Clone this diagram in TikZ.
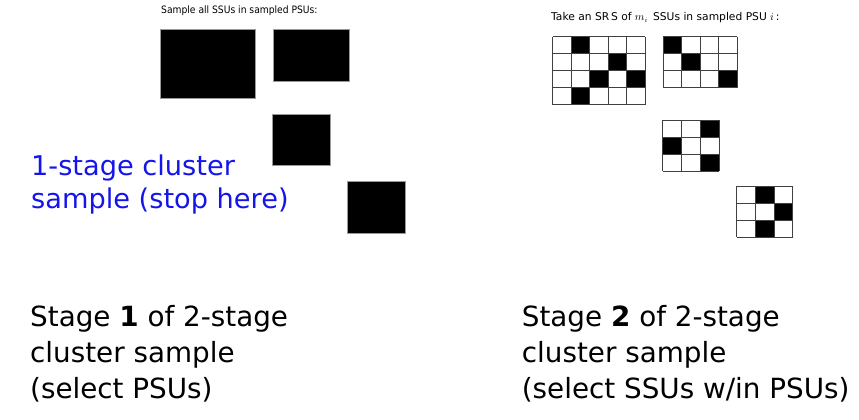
\documentclass[tikz,border=0pt]{standalone}
\usepackage{fontspec}
\setmainfont{DejaVu Sans}
\newfontfamily\condfont{DejaVu Sans Condensed}
\begin{document}
\begin{tikzpicture}[x=1pt,y=-1pt,
  txt/.style={anchor=base west,inner sep=0pt,font=\fontsize{27.8}{32}\selectfont},
  bluetxt/.style={txt,font=\fontsize{27.2}{32}\selectfont,text={rgb,255:red,20;green,20;blue,235}},
  small/.style={anchor=base west,inner sep=0pt,font=\condfont\fontsize{10.2}{12}\selectfont},
  smallr/.style={anchor=base west,inner sep=0pt,font=\fontsize{10.7}{12}\selectfont},
  gridline/.style={draw=black!75,line width=0.9pt},
  fullbox/.style={fill=black,draw=black!40,line width=0.9pt}]
\useasboundingbox (0,0) rectangle (859,420);
% #1 x0, #2 y0, #3 cols, #4 rows, #5 cell width, #6 list of black cells c/r
\newcommand\ssugrid[6]{%
  \foreach \c/\r in {#6}{\fill[black] ({#1+(\c-1)*#5},{#2+(\r-1)*17}) rectangle ++(#5,17);}
  \foreach \i in {0,...,#3}{\draw[gridline] ({#1+\i*#5},#2) -- ++(0,{#4*17});}
  \foreach \j in {0,...,#4}{\draw[gridline] (#1,{#2+\j*17}) -- ++({#3*#5},0);}
}
% left: stage 1 (all SSUs sampled)
\node[small] (lt) at (161,14) {Sample all SSUs in sampled PSUs:};
\draw[fullbox] (160.7,29.7) rectangle ++(95,68.3);
\draw[fullbox] (273.3,29.7) rectangle ++(75.7,51.3);
\draw[fullbox] (272.7,114) rectangle ++(57.3,51.7);
\draw[fullbox] (347.7,181.3) rectangle ++(57.3,52);
% right: stage 2
\node[smallr] (rt) at (551,21) {Take an SR\,S of $m_i$\, SSUs in sampled PSU $i$\,:};
\ssugrid{552.7}{36.7}{5}{4}{18.46}{2/1,4/2,3/3,5/3,2/4}
\ssugrid{663}{36.7}{4}{3}{18.5}{1/1,2/2,4/3}
\ssugrid{662.7}{120}{3}{3}{18.8}{3/1,1/2,3/3}
\ssugrid{736.7}{186}{3}{3}{18.7}{2/1,3/2,2/3}
% blue label
\node[bluetxt] (b1) at (31,175) {1-stage cluster};
\node[bluetxt] (b2) at (31,208.5) {sample (stop here)};
% bottom labels
\node[txt] (l1) at (30,326) {Stage \textbf{1} of 2-stage};
\node[txt] (l2) at (30,362) {cluster sample};
\node[txt] (l3) at (30,398) {(select PSUs)};
\node[txt] (r1) at (521.7,326) {Stage \textbf{2} of 2-stage};
\node[txt] (r2) at (521.7,362) {cluster sample};
\node[txt] (r3) at (521.7,398) {(select SSUs w/in PSUs)};
\end{tikzpicture}
\end{document}
